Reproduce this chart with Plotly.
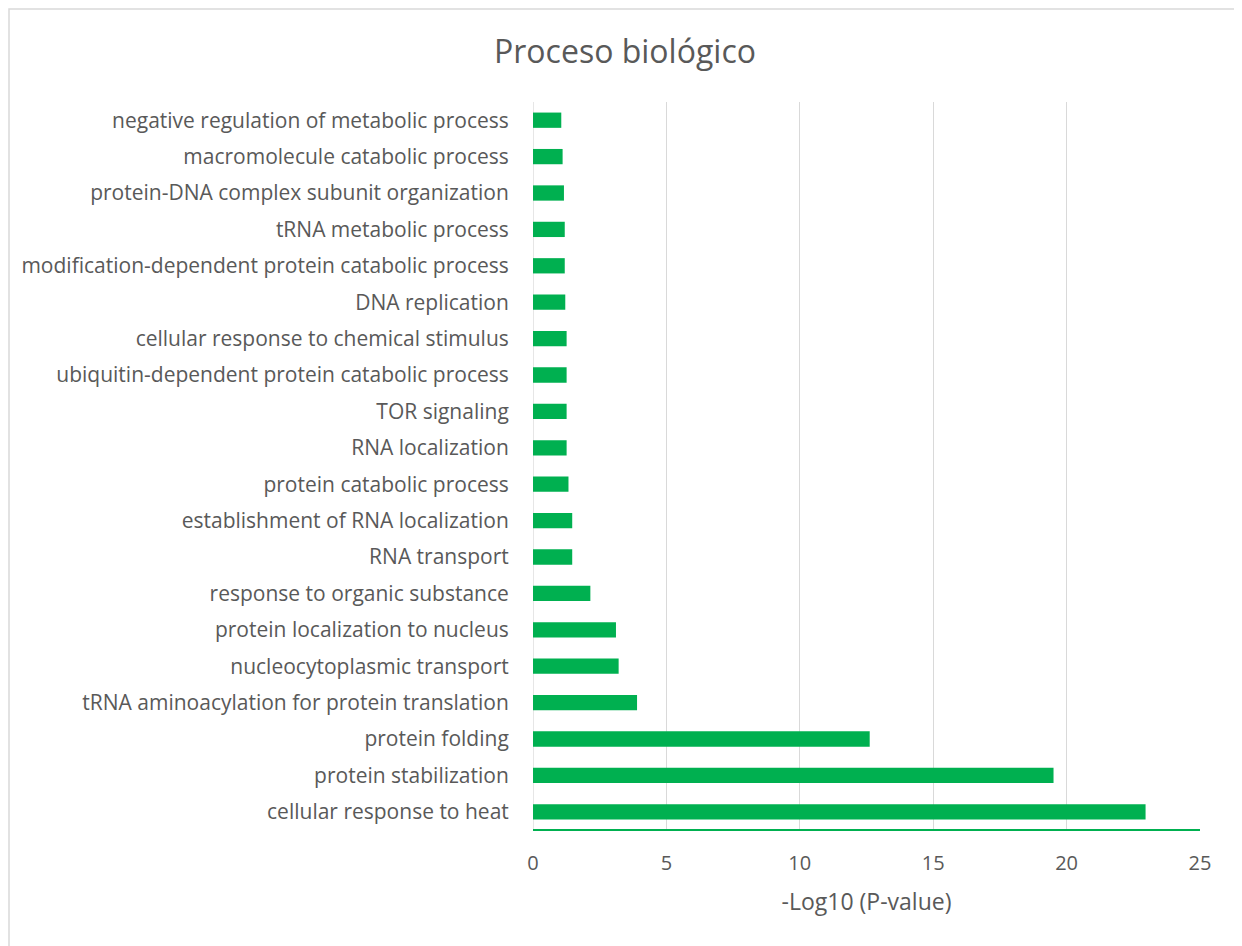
import plotly.graph_objects as go

categories = [
    "cellular response to heat",
    "protein stabilization",
    "protein folding",
    "tRNA aminoacylation for protein translation",
    "nucleocytoplasmic transport",
    "protein localization to nucleus",
    "response to organic substance",
    "RNA transport",
    "establishment of RNA localization",
    "protein catabolic process",
    "RNA localization",
    "TOR signaling",
    "ubiquitin-dependent protein catabolic process",
    "cellular response to chemical stimulus",
    "DNA replication",
    "modification-dependent protein catabolic process",
    "tRNA metabolic process",
    "protein-DNA complex subunit organization",
    "macromolecule catabolic process",
    "negative regulation of metabolic process",
]
values = [22.96, 19.51, 12.62, 3.90, 3.21, 3.11, 2.15, 1.47, 1.47, 1.33,
          1.26, 1.26, 1.26, 1.26, 1.21, 1.19, 1.19, 1.16, 1.11, 1.06]
x_ticks = [0, 5, 10, 15, 20, 25]

FONT = "Open Sans"
GRAY = "#595959"

W, H = 1234, 938
L, R, T, B = 525, 42, 94, 116
PW, PH = W - L - R, H - T - B

fig = go.Figure(go.Bar(
    x=values, y=categories, orientation="h",
    marker=dict(color="#00B050", line=dict(width=0)),
    width=0.42,
))

fig.update_layout(
    width=W, height=H,
    margin=dict(l=L, r=R, t=T, b=B),
    paper_bgcolor="white", plot_bgcolor="white",
    showlegend=False,
    title=dict(text="Proceso biológico", x=0.5, xanchor="center", y=1 - 44 / H, yanchor="middle",
               font=dict(family=FONT, size=32, color=GRAY)),
    font=dict(family=FONT, size=21, color=GRAY),
    xaxis=dict(range=[0, 25], tickvals=x_ticks, showgrid=True, gridcolor="#d9d9d9", gridwidth=1.3,
               zeroline=False, showline=False, ticks="outside", ticklen=15, tickcolor="rgba(0,0,0,0)",
               tickfont=dict(family=FONT, size=20, color=GRAY),
               title=dict(text="-Log10 (P-value)", font=dict(family=FONT, size=23, color=GRAY), standoff=18),
               fixedrange=True),
    yaxis=dict(categoryorder="array", categoryarray=categories, showgrid=False,
               zeroline=False, showline=False, ticks="outside", ticklen=19, tickcolor="rgba(0,0,0,0)",
               tickfont=dict(family=FONT, size=21, color=GRAY), range=[-0.5, len(categories) - 0.5]),
    shapes=[
        dict(type="line", xref="x", yref="paper", x0=0, x1=0, y0=0, y1=1,
             line=dict(color="#d9d9d9", width=1.3), layer="below"),
        dict(type="line", xref="paper", yref="paper", x0=0, x1=1, y0=0, y1=0,
             line=dict(color="#00B050", width=2)),
        dict(type="rect", xref="paper", yref="paper", x0=-(L - 1) / PW, x1=(W - 2 - L) / PW,
             y0=-(B + 20) / PH, y1=1 + (T - 1) / PH, line=dict(color="#d9d9d9", width=1.5), layer="below"),
    ],
)

fig.write_html("out.html")
